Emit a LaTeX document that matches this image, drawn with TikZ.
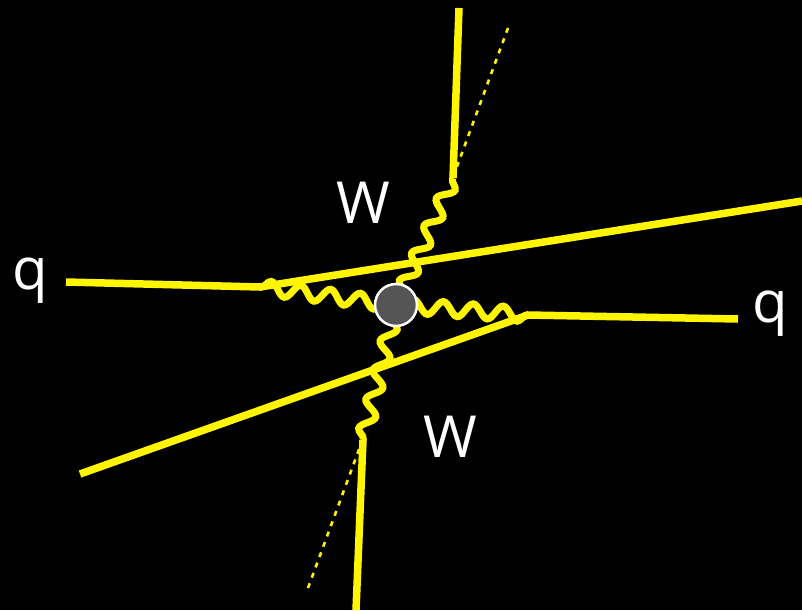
\documentclass[tikz,border=0pt]{standalone}
\usepackage{fontspec}
\setmainfont{Open Sans}
\usetikzlibrary{decorations.pathmorphing}
\definecolor{qy}{RGB}{255,245,0}
\definecolor{blobgray}{RGB}{85,85,85}
\tikzset{
  quark/.style={draw=qy, line width=7.5pt},
  boson/.style={draw=qy, line width=7pt, decorate, decoration={snake, segment length=30pt, amplitude=7pt, pre length=1pt, post length=1pt}},
  ghost/.style={draw=qy, line width=2.6pt, dash pattern=on 5pt off 6pt},
  lbl/.style={text=white, font=\fontsize{58}{58}\selectfont, inner sep=0pt},
  blobstyle/.style={circle, fill=blobgray, draw=white, line width=2.5pt, minimum size=42pt, inner sep=0pt}
}
\begin{document}
\begin{tikzpicture}[x=1pt, y=-1pt]
  \fill[black] (0,0) rectangle (802,610);
  \useasboundingbox (0,0) rectangle (802,610);
  % coordinates
  \coordinate (lin) at (66,282);
  \coordinate (v1) at (260,287);
  \coordinate (lout) at (802,201);
  \coordinate (rin) at (738,319);
  \coordinate (v2) at (528,315);
  \coordinate (rout) at (80,474);
  \coordinate (wt0) at (459,8);
  \coordinate (wt1) at (453,178);
  \coordinate (wb0) at (356,610);
  \coordinate (wb1) at (363,440);
  \coordinate (dt0) at (508,28);
  \coordinate (dt1) at (455,172);
  \coordinate (db0) at (308,588);
  \coordinate (db1) at (361,444);
  \coordinate (c) at (396,305);
  % bosons
  \path[boson] (v1) -- (c);
  \path[boson] (v2) -- (c);
  \path[boson] (wt1) -- (c);
  \path[boson] (wb1) -- (c);
  % quark lines
  \draw[quark] (lin) -- (v1) -- (lout);
  \draw[quark] (rin) -- (v2) -- (rout);
  \draw[quark] (wt0) -- (wt1);
  \draw[quark] (wb0) -- (wb1);
  % dotted
  \draw[ghost] (dt0) -- (dt1);
  \draw[ghost] (db0) -- (db1);
  % blob
  \node[blobstyle] (blob) at (c) {};
  % labels
  \node[lbl] (lq) at (30,281) {q};
  \node[lbl] (rq) at (770,314) {q};
  \node[lbl] (wt) at (363,203) {W};
  \node[lbl] (wb) at (450,437) {W};
\end{tikzpicture}
\end{document}
